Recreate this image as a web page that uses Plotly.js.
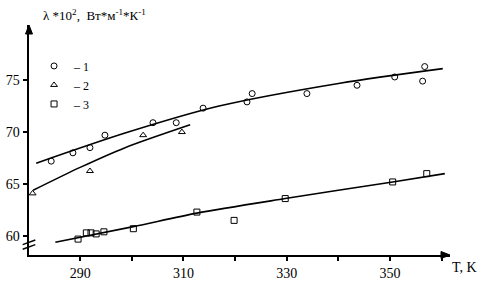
<!DOCTYPE html>
<html><head><meta charset="utf-8">
<script src="https://cdn.plot.ly/plotly-3.0.1.min.js"></script>
<style>html,body{margin:0;padding:0;background:#fff}#c{width:478px;height:281px}</style>
</head><body><div id="c"></div>
<script>
// Series 1 (circles)
const s1T = [284.4, 288.6, 291.9, 294.8, 304.1, 308.6, 313.8, 322.3, 323.3, 333.9, 343.6, 350.9, 356.7, 356.3];
const s1V = [67.2, 68.0, 68.5, 69.7, 70.9, 70.9, 72.3, 72.9, 73.7, 73.7, 74.5, 75.3, 76.3, 74.9];
// Series 2 (triangles)
const s2T = [280.8, 291.9, 302.2, 309.7];
const s2V = [64.1, 66.25, 69.7, 70.0];
// Series 3 (squares)
const s3T = [289.6, 291.2, 292.1, 293.1, 294.6, 300.3, 312.6, 319.8, 329.7, 350.5, 357.1];
const s3V = [59.7, 60.3, 60.3, 60.2, 60.4, 60.7, 62.3, 61.5, 63.6, 65.2, 66.0];
// Fitted curves
const l1T = [281.5, 298.7, 316.9, 340.3, 360.2];
const l1V = [67.0, 69.9, 72.5, 74.7, 76.1];
const l2T = [280.9, 290.0, 298.7, 311.3];
const l2V = [64.4, 66.6, 68.5, 70.7];
const l3T = [285.2, 300.3, 312.6, 329.7, 350.5, 360.6];
const l3V = [59.4, 60.9, 62.2, 63.6, 65.2, 66.0];
// Ticks
const xTickVals = [290, 310, 330, 350];
const yTickVals = [60, 65, 70, 75];
const legendNames = ['– 1', '– 2', '– 3'];

const font = {family: 'Liberation Serif, Times New Roman, serif', color: '#000'};
const lineStyle = {color: '#000', width: 1.6, shape: 'spline', smoothing: 0.8};
const mk = (sym) => ({symbol: sym, size: 6, color: '#000', line: {color: '#000', width: 1}});

const data = [
  {x: l1T, y: l1V, mode: 'lines', line: lineStyle, showlegend: false, hoverinfo: 'skip'},
  {x: l2T, y: l2V, mode: 'lines', line: lineStyle, showlegend: false, hoverinfo: 'skip'},
  {x: l3T, y: l3V, mode: 'lines', line: lineStyle, showlegend: false, hoverinfo: 'skip'},
  {x: s1T, y: s1V, mode: 'markers', marker: mk('circle-open'), name: legendNames[0]},
  {x: s2T, y: s2V, mode: 'markers', marker: mk('triangle-up-open'), name: legendNames[1]},
  {x: s3T, y: s3V, mode: 'markers', marker: mk('square-open'), name: legendNames[2]}
];

const dx = 9 / 421, dy = 3.5 / 230, ex = 3.5 / 421, ey = 9 / 230;
const layout = {
  width: 478, height: 281,
  margin: {l: 29, r: 28, t: 25, b: 26},
  paper_bgcolor: '#fff', plot_bgcolor: '#fff',
  font: Object.assign({size: 14}, font),
  title: {text: 'λ *10<sup>2</sup>,  Вт*м<sup>-1</sup>*К<sup>-1</sup>', x: 0.09, xanchor: 'left', y: 0.945, yanchor: 'middle', font: Object.assign({size: 13}, font)},
  xaxis: {range: [280.1, 361.6], tickvals: xTickVals, ticks: 'outside', ticklen: 4, tickwidth: 2, tickcolor: '#000',
          minor: {tick0: 290, dtick: 10, ticks: 'outside', ticklen: 4, tickwidth: 2, tickcolor: '#000', showgrid: false},
          showline: true, linewidth: 2, linecolor: '#000', showgrid: false, zeroline: false, tickfont: Object.assign({size: 14}, font)},
  yaxis: {range: [58.17, 80.3], tickvals: yTickVals, ticks: 'outside', ticklen: 4, tickwidth: 2, tickcolor: '#000',
          showline: true, linewidth: 2.5, linecolor: '#000', showgrid: false, zeroline: false, tickfont: Object.assign({size: 14}, font)},
  showlegend: true,
  legend: {x: 0.012, y: 0.885, xanchor: 'left', yanchor: 'top', bgcolor: 'rgba(0,0,0,0)', itemwidth: 30, tracegroupgap: 0,
           font: Object.assign({size: 12}, font)},
  annotations: [
    {xref: 'paper', yref: 'paper', x: 1.0, y: -0.055, text: 'T, K', showarrow: false, xanchor: 'left', yanchor: 'middle', font: Object.assign({size: 14}, font)}
  ],
  shapes: [
    {type: 'path', xref: 'paper', yref: 'paper', path: `M 1 0 L ${1 - dx} ${dy} L ${1 - dx} ${-dy} Z`, fillcolor: '#000', line: {color: '#000', width: 1}},
    {type: 'path', xref: 'paper', yref: 'paper', path: `M 0 1 L ${ex} ${1 - ey} L ${-ex} ${1 - ey} Z`, fillcolor: '#000', line: {color: '#000', width: 1}},
    {type: 'line', xref: 'paper', yref: 'paper', x0: -0.015, x1: 0.015, y0: 0.025, y1: 0.045, line: {color: '#000', width: 1.5}},
    {type: 'line', xref: 'paper', yref: 'paper', x0: -0.015, x1: 0.015, y0: 0.045, y1: 0.065, line: {color: '#000', width: 1.5}}
  ]
};

Plotly.newPlot('c', data, layout, {staticPlot: true, displayModeBar: false});
</script></body></html>
